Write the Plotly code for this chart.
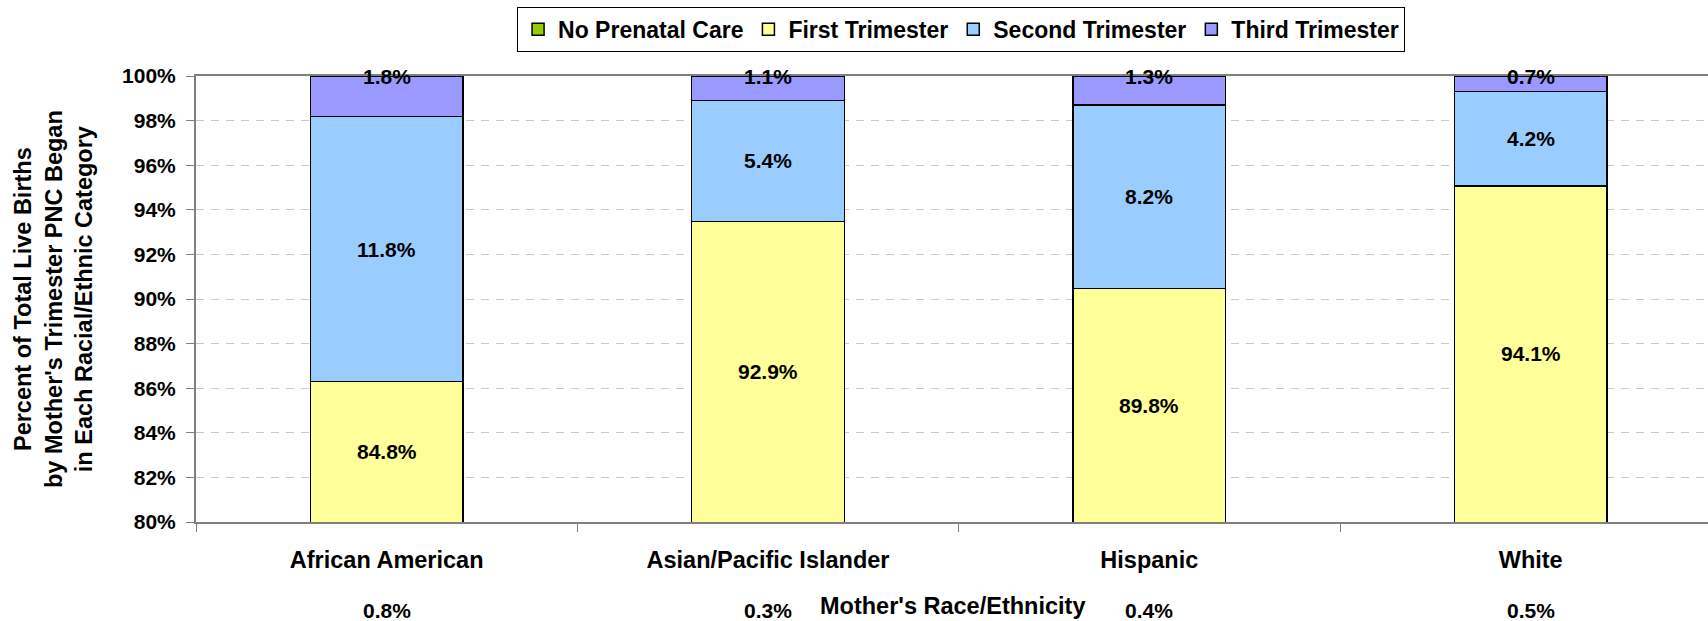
import plotly.graph_objects as go

# data (percent of births in each group)
categories = ['African American', 'Asian/Pacific Islander', 'Hispanic', 'White']
no_pnc = [0.8, 0.3, 0.4, 0.5]
first_tri = [84.8, 92.9, 89.8, 94.1]
second_tri = [11.8, 5.4, 8.2, 4.2]
third_tri = [1.8, 1.1, 1.3, 0.7]
y_ticks = [80, 82, 84, 86, 88, 90, 92, 94, 96, 98, 100]

series = [
    ('No Prenatal Care', no_pnc, '#99cc00'),
    ('First Trimester', first_tri, '#ffff99'),
    ('Second Trimester', second_tri, '#99ccff'),
    ('Third Trimester', third_tri, '#9999ff'),
]

FONT = 'Liberation Sans, Arial, sans-serif'
Y_MIN, Y_MAX = 80, 100

fig = go.Figure()
for name, vals, color in series:
    fig.add_trace(go.Bar(
        name=name,
        x=categories,
        y=vals,
        marker=dict(color=color, line=dict(color='black', width=1.5)),
        width=0.4,
    ))

label_font = dict(size=21, family=FONT, color='black', weight='bold')
annotations = []
# labels for the stacked segments, centred on the visible part (100% stacked)
totals = [sum(s[1][i] for s in series) for i in range(len(categories))]
for i, cat in enumerate(categories):
    base = 0.0
    for k, (name, vals, color) in enumerate(series):
        lo = base / totals[i] * 100
        hi = (base + vals[i]) / totals[i] * 100
        base += vals[i]
        label = f'{vals[i]:.1f}%'
        if k == 0:
            # segment sits below the axis range: label under the category
            annotations.append(dict(x=cat, xref='x', y=0, yref='paper', yshift=-88,
                                    yanchor='middle', text=label, showarrow=False,
                                    font=label_font))
        elif k == len(series) - 1:
            annotations.append(dict(x=cat, xref='x', y=Y_MAX, yref='y',
                                    yanchor='middle', text=label, showarrow=False,
                                    font=label_font))
        else:
            yc = (max(lo, Y_MIN) + min(hi, Y_MAX)) / 2
            annotations.append(dict(x=cat, xref='x', y=yc, yref='y',
                                    yanchor='middle', text=label, showarrow=False,
                                    font=label_font))

annotations.append(dict(
    x=0, xref='paper', xshift=-143, y=0.5, yref='paper',
    text="Percent of Total Live Births<br>by Mother's Trimester PNC Began<br>in Each Racial/Ethnic Category",
    textangle=-90, showarrow=False, xanchor='center', yanchor='middle',
    font=dict(size=23.5, family=FONT, color='black', weight='bold'),
))
annotations.append(dict(
    x=0.5, xref='paper', y=0, yref='paper', yshift=-84, yanchor='middle',
    text="Mother's Race/Ethnicity", showarrow=False,
    font=dict(size=23.5, family=FONT, color='black', weight='bold'),
))

fig.update_layout(
    barmode='stack',
    barnorm='percent',
    width=1708,
    height=621,
    margin=dict(l=196, r=0, t=76, b=99),
    paper_bgcolor='white',
    plot_bgcolor='white',
    font=dict(family=FONT, color='black'),
    showlegend=True,
    legend=dict(
        orientation='h',
        x=0.506, xanchor='center',
        y=1.155, yanchor='top',
        bgcolor='white',
        bordercolor='black',
        borderwidth=1,
        font=dict(size=23, family=FONT, color='black', weight='bold'),
        traceorder='normal',
    ),
    xaxis=dict(
        range=[-0.5, 3.465],
        showline=True, mirror=True, linecolor='#808080', linewidth=2,
        ticks='outside', tickson='boundaries', ticklen=8, tickcolor='#808080',
        ticklabelstandoff=16,
        tickfont=dict(size=23.5, family=FONT, color='black', weight='bold'),
        showgrid=False,
    ),
    yaxis=dict(
        range=[Y_MIN, Y_MAX],
        tickvals=y_ticks,
        ticktext=[f'{v}%' for v in y_ticks],
        showline=True, linecolor='#808080', linewidth=2,
        ticks='outside', ticklen=8, tickcolor='#808080',
        ticklabelstandoff=6,
        tickfont=dict(size=21, family=FONT, color='black', weight='bold'),
        showgrid=True, gridcolor='#c8c8c8', gridwidth=1, griddash='8px,7px',
        zeroline=False,
    ),
    annotations=annotations,
    hovermode='closest',
)

fig.write_html("out.html", config={'displayModeBar': False},
               post_script="document.body.style.margin = '0px';")
